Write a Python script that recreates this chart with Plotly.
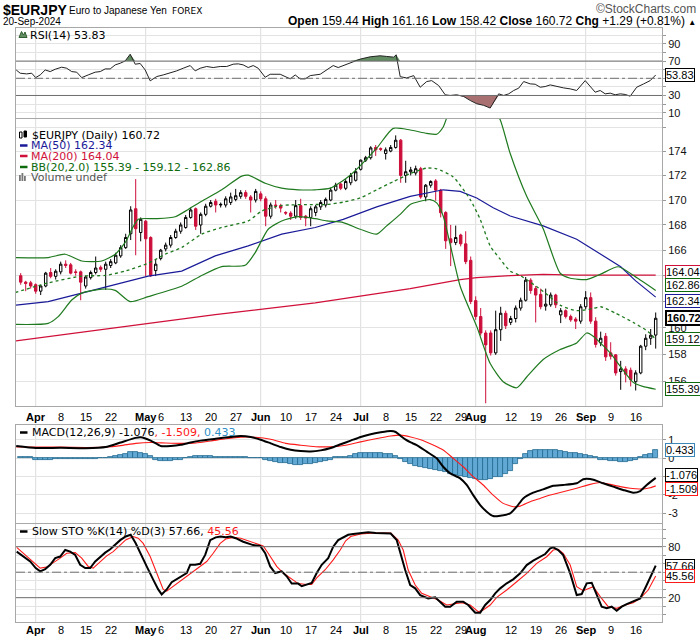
import math
import plotly.graph_objects as go

# ---------------- data ----------------
# trading-day index: 0 = 1-Apr-2024, 124 = 20-Sep-2024
bar_idx = list(range(-3, 125))

opens = [164.0, 163.5, 163.45, 163.3, 162.8, 163.2, 164.25, 163.95, 164.3, 164.9,
         164.85, 164.3, 164.3, 163.2, 163.85, 164.25, 164.65, 164.5, 164.8, 165.0,
         165.55, 166.2, 167.3, 169.3, 167.4, 168.3, 167.0, 164.4, 165.35, 166.1,
         166.4, 167.0, 167.5, 167.8, 168.6, 169.3, 168.0, 168.85, 169.5, 169.9,
         169.6, 169.6, 169.8, 170.05, 170.3, 170.6, 170.25, 170.0, 170.5, 170.1,
         168.7, 169.6, 169.55, 169.0, 168.95, 168.7, 169.55, 168.7, 168.6, 169.0,
         169.45, 169.6, 170.0, 170.8, 171.3, 170.95, 171.4, 171.6, 172.5, 173.25,
         173.45, 174.3, 174.2, 173.8, 174.0, 174.3, 174.9, 172.0, 172.3, 172.2,
         172.55, 170.25, 171.2, 171.55, 170.8, 169.0, 166.9, 166.6, 167.2, 166.5,
         165.2, 162.07, 160.85, 159.6, 159.6, 158.1, 159.85, 161.1, 160.4, 160.7,
         161.5, 162.1, 163.65, 163.0, 162.55, 161.65, 161.75, 162.5, 160.98, 161.3,
         160.85, 160.65, 160.5, 161.6, 162.3, 160.5, 158.85, 159.35, 158.1, 157.95,
         156.7, 156.9, 156.8, 155.95, 156.6, 158.6, 159.2, 159.44]
highs = [164.2, 163.6, 163.6, 163.4, 163.3, 164.3, 164.6, 164.5, 165.1, 165.2,
         165.0, 164.5, 164.4, 164.0, 164.4, 165.5, 164.8, 165.1, 165.3, 165.8,
         166.4, 167.3, 169.5, 171.7, 168.6, 168.4, 167.1, 165.3, 166.1, 166.6,
         167.2, 167.7, 168.2, 168.8, 169.4, 169.4, 169.0, 169.7, 170.0, 170.1,
         169.8, 170.3, 170.6, 170.9, 170.8, 170.8, 170.4, 170.9, 170.7, 170.3,
         169.8, 170.0, 169.7, 169.1, 169.1, 170.0, 170.1, 168.8, 169.5, 169.6,
         170.0, 170.2, 171.0, 171.4, 171.4, 171.7, 172.2, 172.6, 173.3, 173.6,
         174.4, 174.5, 174.3, 174.3, 174.5, 175.3, 175.0, 173.2, 172.7, 172.8,
         172.7, 171.3, 171.6, 171.7, 170.9, 169.1, 168.0, 167.95, 167.3, 167.5,
         165.5, 162.4, 161.5, 159.8, 159.8, 161.3, 161.6, 161.3, 160.9, 161.7,
         162.3, 163.9, 163.8, 163.2, 163.0, 163.0, 162.7, 162.6, 161.5, 161.4,
         161.0, 160.8, 161.8, 162.8, 162.7, 160.8, 159.7, 159.6, 158.9, 158.0,
         157.5, 157.1, 157.0, 156.8, 158.7, 159.5, 159.9, 161.16]
lows = [163.3, 162.8, 163.0, 162.6, 162.5, 163.1, 163.8, 163.7, 164.1, 164.6,
        164.1, 164.0, 162.1, 163.0, 163.7, 164.1, 164.3, 162.9, 164.6, 164.9,
        165.4, 166.1, 166.8, 165.6, 166.7, 163.97, 163.9, 163.97, 165.2, 165.9,
        166.2, 166.9, 167.3, 167.7, 168.5, 167.6, 167.3, 168.7, 169.4, 169.0,
        169.4, 169.4, 169.6, 169.9, 170.1, 170.1, 169.0, 169.8, 169.9, 167.9,
        168.5, 169.3, 169.0, 168.8, 168.4, 168.5, 168.4, 167.9, 167.9, 168.7,
        169.2, 169.4, 169.9, 170.7, 170.8, 170.8, 171.2, 171.5, 172.4, 173.1,
        173.3, 173.6, 174.0, 173.3, 173.9, 174.2, 171.4, 171.4, 172.0, 172.0,
        170.1, 169.9, 171.0, 169.95, 168.6, 166.1, 164.75, 166.4, 166.3, 164.9,
        161.8, 160.6, 159.4, 154.36, 157.9, 157.95, 159.0, 159.9, 160.2, 160.4,
        161.3, 162.0, 162.6, 160.4, 161.4, 161.3, 161.6, 161.5, 160.35, 160.7,
        160.45, 159.9, 160.3, 161.4, 160.3, 158.5, 158.6, 157.5, 157.6, 156.4,
        155.35, 155.9, 155.6, 155.3, 156.5, 158.3, 158.7, 158.42]
closes = [163.5, 163.4, 163.2, 162.8, 163.2, 164.2, 163.95, 164.35, 164.9, 164.8,
          164.2, 164.25, 163.5, 163.9, 164.25, 164.6, 164.5, 164.9, 165.1, 165.6,
          166.2, 167.0, 169.2, 167.7, 168.45, 166.9, 164.0, 164.9, 166.0, 166.4,
          167.0, 167.5, 168.0, 168.6, 169.2, 167.9, 168.85, 169.5, 169.8, 169.6,
          169.65, 170.1, 170.25, 170.35, 170.6, 170.3, 170.0, 170.7, 170.1, 168.7,
          169.6, 169.55, 169.35, 168.95, 168.7, 169.55, 168.6, 168.55, 169.3, 169.45,
          169.8, 170.05, 170.8, 171.2, 170.95, 171.5, 172.0, 172.3, 173.25, 173.45,
          174.26, 174.1, 174.15, 174.1, 174.3, 174.9, 172.0, 172.3, 172.45, 172.55,
          170.25, 171.2, 171.5, 170.8, 168.98, 166.74, 166.6, 167.0, 166.5, 165.1,
          162.0, 160.85, 159.6, 158.7, 158.1, 159.85, 161.1, 160.15, 160.7, 161.5,
          162.1, 163.65, 162.85, 162.5, 161.6, 161.8, 162.5, 161.75, 161.3, 160.85,
          160.6, 160.5, 161.6, 162.3, 160.5, 158.73, 159.2, 157.8, 157.85, 156.6,
          156.9, 156.5, 156.1, 156.6, 158.6, 159.2, 159.43, 160.72]

ma50_x = [-4.1, 2.5, 9.2, 15.9, 22.5, 29.2, 35.9, 42.5, 49.2, 55.9, 61.5, 68.2, 74.9,
          81.5, 84.9, 88.2, 91.5, 94.9, 101.5, 108.2, 113, 117, 120, 124]
ma50_v = [161.72, 161.99, 162.65, 163.31, 163.97, 164.36, 165.55, 166.34, 167.27, 167.8,
          168.45, 169.45, 170.3, 170.83, 170.7, 170.17, 169.38, 168.72, 167.93, 166.87,
          165.7, 164.7, 163.6, 162.34]

ma200_x = [-4.1, 15.9, 35.9, 55.9, 64.9, 74.9, 84.9, 88.2, 94.9, 101.5, 108.2, 116.9, 124]
ma200_v = [159.0, 160.0, 161.0, 161.9, 162.4, 163.0, 163.7, 163.85, 164.0, 164.1, 164.05,
           164.02, 164.04]

bb_up_x = [-4.1, 2.5, 5.9, 9.2, 13.2, 15.9, 17.9, 20.5, 23.9, 27.9, 30.5, 33.2, 37.2, 41.2,
           42.5, 45.9, 49.2, 52.5, 55.9, 58.9, 62.9, 68.2, 71.5, 74.9, 78.2, 80.2, 81.5,
           82.9, 86, 89, 91.5, 92.9, 94.9, 98.2, 101.5, 104.9, 106.9, 110.2, 112.9, 116.5,
           120.4, 124]
bb_up_v = [165.42, 165.42, 165.68, 165.15, 165.15, 165.68, 166.61, 168.45, 168.5, 168.66,
           169.24, 169.9, 170.83, 171.94, 172.02, 171.36, 170.96, 170.83, 170.83, 170.96,
           172.02, 174.24, 175.89, 175.75, 175.47, 175.4, 176.0, 177.5, 179.0, 179.0,
           177.5, 176.6, 173.8, 170.3, 167.7, 164.19, 163.8, 163.7, 164.1, 164.7,
           163.8, 162.86]

bb_mid_x = [-4.1, 2.5, 9.2, 13.9, 17.9, 22.5, 25.9, 29.2, 33.2, 37.2, 42.5, 45.2, 49.2,
            55.9, 58.2, 61.5, 64.9, 68.2, 71.5, 74.9, 78.2, 80.2, 83.5, 86.9, 88.9, 90.9,
            92.9, 94.9, 96.9, 101.5, 104.9, 108.2, 111.5, 113, 116, 119.5, 122.5, 124]
bb_mid_v = [162.7, 163.44, 163.97, 164.02, 164.36, 164.97, 165.68, 166.21, 167.27, 167.8,
            168.32, 169.11, 169.56, 169.64, 169.64, 169.83, 170.17, 170.83, 171.49, 172.15,
            172.6, 172.54, 171.88, 170.04, 168.45, 166.34, 165.29, 164.36, 164.02, 162.78,
            161.72, 161.3, 161.47, 161.6, 161.1, 160.4, 159.7, 159.12]

bb_lo_x = [-4.1, 2.5, 4.5, 7.2, 9.2, 13.2, 15.9, 18.9, 22.5, 29.2, 33.2, 37.2, 41.9, 43.9,
           46.5, 49.2, 52.5, 55.9, 58.2, 61.5, 64.9, 68.2, 70.2, 72.9, 74.9, 76.9, 78.9,
           80.2, 81.5, 84.9, 88.2, 90.9, 93.5, 96.2, 98.2, 101.5, 104.9, 108.2, 110.2,
           111.5, 114.9, 116.9, 119.5, 121.4, 124]
bb_lo_v = [160.25, 160.33, 160.84, 162.12, 162.65, 162.96, 162.86, 161.99, 162.38, 163.18,
           164.02, 164.71, 164.81, 165.81, 167.66, 168.32, 168.66, 168.5, 168.32, 168.19,
           167.66, 167.27, 167.93, 168.85, 169.64, 169.9, 170.04, 169.77, 168.72, 163.18,
           160.1, 157.3, 155.95, 155.5, 156.3, 157.6, 158.35, 158.85, 159.6, 159.35,
           158.1, 157.1, 155.9, 155.6, 155.39]

rsi_x = [-3.9, -3.1, -1.8, -0.8, 0, 0.9, 1.9, 2.9, 3.9, 5.2, 6.2, 7.2, 8.2, 9.2, 10.5, 11.9,
         12.9, 13.9, 14.9, 15.9, 16.9, 17.9, 18.9, 19.9, 20.9, 21.9, 22.9, 24.2, 25.5, 26.9,
         28.2, 29.5, 30.9, 31.9, 32.9, 34.2, 35.5, 36.9, 38.2, 39.5, 40.5, 41.5, 42.5, 43.5,
         44.5, 45.9, 46.9, 48.9, 50.9, 51.9, 52.9, 53.9, 54.9, 56.9, 58.2, 59.5, 60.5, 61.5,
         62.9, 64.9, 66.9, 68.9, 70.2, 71.6, 72.1, 72.9, 74.2, 75.6, 76.9, 78.2, 79.2, 80.6,
         81.9, 82.9, 84.2, 85.6, 86.9, 88.2, 89.6, 90.9, 92.6, 93.6, 94.6, 95.6, 96.6, 97.6,
         98.9, 99.9, 100.9, 101.9, 102.9, 104.2, 105.6, 106.9, 108.2, 109.9, 110.9, 111.9,
         112.9, 113.9, 114.9, 115.9, 116.9, 117.9, 118.9, 120.2, 121.6, 122.9, 124]
rsi_v = [59.7, 55.9, 55.1, 55.9, 50.8, 53.9, 59.7, 57.8, 60.5, 62.9, 61.7, 57.8, 57.1, 50.8,
         53.9, 57.1, 57.8, 60.9, 60.9, 65.6, 67.5, 70.2, 78.0, 66.4, 67.2, 59.7, 47.0, 52.0,
         53.9, 55.9, 58.6, 61.7, 64.8, 58.6, 61.7, 63.7, 62.5, 63.7, 63.7, 66.4, 66.8, 65.6,
         62.5, 64.8, 61.7, 51.2, 54.7, 54.7, 49.3, 53.9, 49.3, 49.3, 53.1, 54.7, 59.7, 64.8,
         62.5, 64.8, 67.5, 72.3, 75.0, 76.2, 75.4, 74.6, 77.3, 51.9, 50.4, 53.1, 39.6, 46.2,
         47.3, 41.5, 30.8, 30.0, 30.8, 28.8, 24.2, 20.4, 18.5, 15.4, 31.9, 30.0, 31.9, 35.8,
         38.5, 46.2, 43.5, 43.1, 39.6, 40.4, 42.3, 40.4, 38.8, 37.7, 35.8, 47.3, 40.4, 33.8,
         35.8, 31.9, 32.7, 30.8, 31.9, 31.2, 29.2, 39.6, 43.5, 47.3, 53.83]

macd_x = [-3.9, 0, 5, 10, 14, 17, 20, 21, 23, 25, 27, 29, 31, 33, 36, 39, 41, 43, 45, 47,
          49, 51, 53, 55, 57, 59, 61, 63, 65, 67, 69, 71, 72, 73, 74, 75, 76.2, 78.2, 80.2,
          81.5, 82.9, 84.9, 86.2, 87.5, 88.9, 90.2, 91.5, 92.9, 94.9, 96.2, 97.5, 99.5,
          101.5, 103.5, 105.5, 108.2, 109.5, 110.9, 112.2, 113.5, 115.5, 117.5, 119.5,
          120.9, 122.2, 124]
macd_v = [0.66, 0.55, 0.56, 0.54, 0.6, 0.85, 1.10, 1.13, 0.95, 0.66, 0.66, 0.72, 0.85,
          0.95, 1.05, 1.15, 1.2, 1.15, 1.0, 0.8, 0.6, 0.45, 0.38, 0.36, 0.42, 0.55, 0.75,
          0.95, 1.15, 1.3, 1.4, 1.47, 1.42, 1.2, 1.0, 0.85, 0.71, 0.35, -0.01, -0.47, -0.83,
          -1.10, -1.46, -2.01, -2.55, -2.91, -3.15, -3.13, -3.0, -2.64, -2.19, -1.88, -1.70,
          -1.50, -1.46, -1.37, -1.15, -1.14, -1.24, -1.37, -1.55, -1.73, -1.88, -1.79,
          -1.46, -1.076]

signal_x = [-3.9, 0, 5, 10, 14, 17, 20, 23, 26, 29, 32, 35, 38, 41, 44, 47, 50, 53, 56, 59,
            62, 65, 68, 71, 73, 75, 77, 79.5, 81.5, 83.5, 85.5, 87.5, 89.5, 91.5, 93.5,
            95.5, 96.9, 98.9, 100.9, 102.9, 105.5, 108.2, 110.9, 112.9, 114.9, 116.9, 118.9,
            120.9, 122.9, 124]
signal_v = [0.6, 0.6, 0.6, 0.58, 0.6, 0.68, 0.8, 0.85, 0.82, 0.8, 0.82, 0.93, 1.05, 1.14,
            1.13, 1.02, 0.8, 0.7, 0.62, 0.62, 0.7, 0.88, 1.05, 1.2, 1.25, 1.15, 1.0, 0.71,
            0.44, -0.01, -0.47, -1.01, -1.46, -2.01, -2.46, -2.64, -2.61, -2.37, -2.19, -2.01,
            -1.83, -1.64, -1.43, -1.33, -1.43, -1.55, -1.64, -1.68, -1.61, -1.509]

hist_v = [0.05, 0.05, 0.05, -0.10, -0.11, -0.11, -0.08, -0.04, -0.04, -0.03,
          -0.04, -0.05, -0.06, -0.05, -0.04, -0.03, -0.02, -0.01, 0.05, 0.14,
          0.16, 0.25, 0.31, 0.32, 0.30, 0.22, 0.12, -0.10, -0.16, -0.17,
          -0.16, -0.12, -0.10, 0.02, 0.08, 0.09, 0.10, 0.09, 0.09, 0.08,
          0.05, 0.04, 0.04, 0.04, 0.04, 0.04, 0.03, 0.03, 0.00, -0.10,
          -0.14, -0.20, -0.24, -0.28, -0.32, -0.35, -0.36, -0.34, -0.31, -0.27,
          -0.22, -0.17, -0.10, 0.04, 0.05, 0.06, 0.12, 0.22, 0.27, 0.30,
          0.30, 0.30, 0.28, 0.24, 0.20, 0.12, -0.05, -0.20, -0.30, -0.42,
          -0.48, -0.53, -0.60, -0.66, -0.72, -0.78, -0.85, -0.90, -0.96, -1.02,
          -1.06, -1.15, -1.18, -1.18, -1.12, -1.05, -1.00, -0.88, -0.70, -0.30,
          -0.05, 0.25, 0.38, 0.42, 0.45, 0.46, 0.46, 0.45, 0.40, 0.33,
          0.30, 0.27, 0.23, 0.18, 0.10, 0.05, -0.08, -0.12, -0.16, -0.18,
          -0.20, -0.22, -0.18, -0.10, 0.05, 0.15, 0.24, 0.433]

stok_x = [-3.8, -2.5, -1.1, 0, 0.9, 1.9, 2.9, 3.9, 4.9, 5.9, 6.9, 7.9, 8.9, 9.9, 10.9, 11.9,
          12.9, 13.9, 14.9, 15.9, 16.9, 18, 19, 20, 20.9, 22.2, 23.5, 24.5, 25.2, 26.2, 27.2,
          28.2, 29.2, 30.2, 30.9, 31.9, 32.9, 33.9, 34.9, 36, 37, 38, 39, 40, 41.5, 43.5,
          44.9, 45.9, 46.9, 47.9, 49.2, 50.2, 51.2, 52.5, 53.2, 54.2, 55.2, 56.2, 57.2, 58.5,
          59.5, 60.5, 61.5, 62.5, 63.5, 65, 66.5, 68, 69.5, 71, 72.2, 72.9, 73.9, 74.9, 75.9,
          76.9, 78.5, 79.9, 80.9, 81.9, 82.9, 84.2, 85.5, 86.5, 87.9, 88.9, 89.9, 90.9, 91.9,
          92.9, 94.2, 95.5, 96.9, 98.2, 99.5, 100.9, 101.9, 102.9, 103.5, 104.5, 105.5,
          106.9, 108.2, 109.2, 110.2, 111.2, 112.2, 113.2, 114.2, 115.2, 116.2, 117.2,
          118.2, 119.5, 120.9, 122.2, 124]
stok_v = [74.2, 68.4, 62.6, 54.8, 51.0, 53.7, 58.7, 66.5, 68.4, 76.1, 74.2, 70.3, 58.7, 54.8,
          54.8, 62.6, 68.4, 73.0, 76.9, 81.9, 87.7, 92, 94, 84, 72.3, 56.8, 41.3, 29.7, 23.9,
          29.7, 38.2, 42.1, 45.2, 49.0, 58.7, 58.7, 59.9, 70.3, 87.7, 91, 92, 91, 92, 90,
          85.8, 81.9, 80.8, 72.3, 56.8, 49.0, 51.0, 45.2, 36.6, 36.6, 33.5, 35.5, 37.4, 49.0,
          58.7, 66.5, 80, 87.7, 91, 94, 95, 96, 97, 96, 96, 95.5, 87.8, 72.2, 52.5, 34.9,
          31.0, 23.1, 19.2, 20.4, 15.3, 9.4, 9.4, 15.3, 15.3, 11.4, 2.4, 2.4, 11.4, 17.3,
          25.1, 31.0, 36.9, 41.6, 48.6, 58.4, 63.5, 68.2, 71.4, 78.0, 79.2, 76.1, 70.2, 48.6,
          23.1, 24.3, 36.9, 37.6, 23.1, 9.4, 7.5, 9.4, 4.7, 9.4, 12.5, 15.3, 19.2, 34.9,
          57.66]

stod_x = [-3.8, -2.1, -0.5, 0.9, 2.2, 3.5, 4.9, 6.2, 7.9, 9.2, 10.5, 11.5, 12.9, 14.2, 15.5,
          16.9, 18, 19.5, 20.5, 21.5, 22.9, 24.2, 25.5, 26.2, 27.5, 28.9, 30.2, 31.5, 32.9,
          34.2, 35.5, 36.9, 38, 39.5, 41, 42.2, 44.2, 45.5, 46.5, 48.2, 49.5, 50.9, 52.5,
          54.2, 55.2, 56.2, 57.9, 59.5, 60.9, 62, 63, 65, 67, 69, 71, 72.5, 73.5, 74.5, 75.9,
          77.2, 78.9, 80.5, 82.2, 83.5, 85.2, 86.9, 88.5, 89.5, 90.9, 92.2, 94.2, 96.2, 98.2,
          100.2, 102.2, 103.5, 104.5, 105.5, 106.9, 108.2, 109.5, 111.5, 112.9, 114.5, 116.2,
          117.9, 119.5, 120.9, 122.5, 124]
stod_v = [79.2, 70.3, 62.6, 54.8, 56.0, 60.6, 66.5, 72.3, 73.0, 66.5, 56.8, 54.8, 62.6, 69.2,
          74.2, 81.9, 88, 92, 90, 83.9, 68.4, 49.0, 29.7, 27.7, 33.5, 39.3, 45.2, 51.0, 56.8,
          62.6, 72.3, 83.9, 89, 91, 90, 87.7, 83.1, 80.8, 72.3, 56.8, 49.0, 43.2, 36.6, 35.5,
          35.5, 43.2, 52.9, 64.5, 76.1, 87, 92, 95, 96, 96, 96, 87.8, 76.1, 52.5, 34.9, 25.1,
          21.2, 17.3, 11.4, 12.5, 14.1, 11.4, 3.5, 5.5, 11.4, 20.4, 29.0, 38.8, 48.6, 60.4,
          68.2, 76.1, 76.9, 72.2, 58.4, 32.9, 28.2, 32.9, 21.2, 9.4, 7.5, 11.4, 14.1, 19.2,
          29.0, 45.56]

month_idx = [0, 22, 45, 65, 88, 110]
tick_idx = [0, 5, 10, 15, 22, 25, 30, 35, 40, 45, 50, 55, 60, 65, 70, 75, 80, 85, 88, 95,
            100, 105, 110, 115, 120]
tick_txt = ['<b>Apr</b>', '8', '15', '22', '<b>May</b>', '6', '13', '20', '27', '<b>Jun</b>',
            '10', '17', '24', '<b>Jul</b>', '8', '15', '22', '29', '<b>Aug</b>', '12', '19',
            '26', '<b>Sep</b>', '9', '16']

price_ticks = [154, 156, 158, 160, 162, 164, 166, 168, 170, 172, 174, 176]
# 162 / 164 are hidden behind the value tags in the reference
price_labels = ['', '156', '158', '160', '', '', '166', '168', '170', '172', '174', '']

# ---------------- layout helpers ----------------
PL, PR, PT, PB = 16, 662, 28, 622


def px_x(px):
    return (px - PL) / (PR - PL)


def px_y(py):
    return (PB - py) / (PB - PT)


SANS = "Liberation Sans, Arial"
VERD = "DejaVu Sans, Verdana"

GREEN = "#1f7a1f"
DKGREEN = "#0d6b0d"
NAVY = "#1a1a99"
CRIMSON = "#d0103a"
RED = "#ff1a1a"
CANDLE_RED = "#cc0f3a"

fig = go.Figure()

# ---- RSI panel ----
fig.add_trace(go.Scatter(x=rsi_x, y=[70] * len(rsi_x), mode="lines", line=dict(width=0),
                         xaxis="x", yaxis="y", hoverinfo="skip"))
fig.add_trace(go.Scatter(x=rsi_x, y=[max(v, 70) for v in rsi_v], mode="lines",
                         line=dict(width=0), fill="tonexty", fillcolor="rgb(98,140,98)",
                         xaxis="x", yaxis="y", hoverinfo="skip"))
fig.add_trace(go.Scatter(x=rsi_x, y=[30] * len(rsi_x), mode="lines", line=dict(width=0),
                         xaxis="x", yaxis="y", hoverinfo="skip"))
fig.add_trace(go.Scatter(x=rsi_x, y=[min(v, 30) for v in rsi_v], mode="lines",
                         line=dict(width=0), fill="tonexty", fillcolor="rgb(168,112,112)",
                         xaxis="x", yaxis="y", hoverinfo="skip"))
fig.add_trace(go.Scatter(x=rsi_x, y=rsi_v, mode="lines", line=dict(color="#222", width=1),
                         xaxis="x", yaxis="y"))

# ---- price panel ----
fig.add_trace(go.Scatter(x=ma200_x, y=ma200_v, mode="lines", line=dict(color=CRIMSON, width=1.2),
                         xaxis="x2", yaxis="y2"))
fig.add_trace(go.Scatter(x=ma50_x, y=ma50_v, mode="lines", line=dict(color=NAVY, width=1.2),
                         xaxis="x2", yaxis="y2"))
fig.add_trace(go.Scatter(x=bb_up_x, y=bb_up_v, mode="lines",
                         line=dict(color=GREEN, width=1.2, shape="spline", smoothing=0.6),
                         xaxis="x2", yaxis="y2"))
fig.add_trace(go.Scatter(x=bb_lo_x, y=bb_lo_v, mode="lines",
                         line=dict(color=GREEN, width=1.2, shape="spline", smoothing=0.6),
                         xaxis="x2", yaxis="y2"))
fig.add_trace(go.Scatter(x=bb_mid_x, y=bb_mid_v, mode="lines",
                         line=dict(color=GREEN, width=1.3, dash="dot", shape="spline", smoothing=0.6),
                         xaxis="x2", yaxis="y2"))
fig.add_trace(go.Candlestick(x=bar_idx, open=opens, high=highs, low=lows, close=closes,
                             xaxis="x2", yaxis="y2", whiskerwidth=0,
                             increasing=dict(line=dict(color="black", width=1), fillcolor="white"),
                             decreasing=dict(line=dict(color=CANDLE_RED, width=1), fillcolor=CANDLE_RED)))

# ---- MACD panel ----
fig.add_trace(go.Bar(x=bar_idx, y=hist_v, width=1.0, marker=dict(color="#62a8d4",
                     line=dict(color="#22698f", width=0.8)), xaxis="x3", yaxis="y3"))
fig.add_trace(go.Scatter(x=signal_x, y=signal_v, mode="lines",
                         line=dict(color=RED, width=1.1, shape="spline", smoothing=0.5),
                         xaxis="x3", yaxis="y3"))
fig.add_trace(go.Scatter(x=macd_x, y=macd_v, mode="lines",
                         line=dict(color="black", width=2, shape="spline", smoothing=0.5),
                         xaxis="x3", yaxis="y3"))

# ---- Slow STO panel ----
fig.add_trace(go.Scatter(x=stod_x, y=stod_v, mode="lines", line=dict(color=RED, width=1.1),
                         xaxis="x4", yaxis="y4"))
fig.add_trace(go.Scatter(x=stok_x, y=stok_v, mode="lines", line=dict(color="black", width=2),
                         xaxis="x4", yaxis="y4"))

# ---------------- axes ----------------
XR = [-3.94, 125.26]
frame = dict(showline=True, mirror=True, linecolor="#a8a8a8", linewidth=1, zeroline=False)
xcommon = dict(range=XR, showgrid=False, fixedrange=True, automargin=False,
               showticklabels=False, ticks="", **frame)
ycommon = dict(side="right", showgrid=True, gridcolor="#e3e3e3", gridwidth=1, ticks="outside",
               ticklen=3, tickcolor="#999", tickfont=dict(family=SANS, size=11, color="#111"),
               automargin=False, **frame)

fig.update_layout(
    width=700, height=639,
    margin=dict(l=PL, r=700 - PR, t=PT, b=639 - PB, pad=0),
    paper_bgcolor="white", plot_bgcolor="white",
    showlegend=False, bargap=0,
    xaxis=dict(anchor="y", **xcommon),
    xaxis2=dict(anchor="y2", matches="x", rangeslider=dict(visible=False), **xcommon),
    xaxis3=dict(anchor="y3", matches="x", **xcommon),
    xaxis4=dict(anchor="y4", matches="x", **xcommon),
    yaxis=dict(domain=[px_y(118), 1.0], range=[3.8, 108.5], tickmode="array",
               tickvals=[10, 20, 30, 40, 50, 60, 70, 80, 90, 100],
               ticktext=["10", "", "30", "", "", "", "70", "", "90", ""], **ycommon),
    yaxis2=dict(domain=[px_y(406), px_y(119)], type="log",
                range=[math.log10(154.16), math.log10(176.67)], tickmode="array",
                tickvals=price_ticks, ticktext=price_labels, **ycommon),
    yaxis3=dict(domain=[px_y(523), px_y(425)], range=[-3.527, 1.799], tickmode="array",
                tickvals=[-3, -2, -1, 0, 1], ticktext=["-3", "-2", "", "0", "1"], **ycommon),
    yaxis4=dict(domain=[0, px_y(524)], range=[-8.6, 106.7], tickmode="array",
                tickvals=[0, 10, 20, 30, 40, 50, 60, 70, 80, 90, 100],
                ticktext=["", "", "20", "", "", "", "", "", "80", "", ""], **ycommon),
)

shapes = []
# month grid lines
for yname in ["y", "y2", "y3", "y4"]:
    for m in month_idx:
        shapes.append(dict(type="line", xref="x", yref=yname + " domain", x0=m, x1=m, y0=0, y1=1,
                           line=dict(color="#dcdcdc", width=1), layer="below"))
# RSI / STO reference lines
for yname, lv in [("y", 70), ("y", 30), ("y4", 80), ("y4", 20)]:
    shapes.append(dict(type="line", xref="paper", yref=yname, x0=0, x1=1, y0=lv, y1=lv,
                       line=dict(color="#6e6e6e", width=1)))
for yname in ["y", "y4"]:
    shapes.append(dict(type="line", xref="paper", yref=yname, x0=0, x1=1, y0=50, y1=50,
                       line=dict(color="#6e6e6e", width=1, dash="dashdot")))


def hline_icon(py, color, w=2.5):
    return dict(type="line", xref="paper", yref="paper", x0=px_x(20), x1=px_x(27.5),
                y0=px_y(py), y1=px_y(py), line=dict(color=color, width=w))


shapes.append(dict(type="path", xref="paper", yref="paper",
                   path=f"M {px_x(19)},{px_y(37.5)} L {px_x(21.5)},{px_y(31.5)} L {px_x(23.5)},{px_y(35)} "
                        f"L {px_x(25)},{px_y(32)} L {px_x(27)},{px_y(37.5)} Z",
                   fillcolor="rgb(98,140,98)", line=dict(color="#2f5f2f", width=1)))
shapes.append(dict(type="rect", xref="paper", yref="paper", x0=px_x(19.5), x1=px_x(22),
                   y0=px_y(138), y1=px_y(132), fillcolor="white", line=dict(color="black", width=1)))
shapes.append(dict(type="rect", xref="paper", yref="paper", x0=px_x(24), x1=px_x(26.5),
                   y0=px_y(137), y1=px_y(131), fillcolor="black", line=dict(color="black", width=1)))
shapes.append(hline_icon(145.5, NAVY))
shapes.append(hline_icon(156, CRIMSON))
shapes.append(hline_icon(167, DKGREEN))
for a, b in [(19, 175), (21.5, 173), (24, 176)]:
    shapes.append(dict(type="rect", xref="paper", yref="paper", x0=px_x(a), x1=px_x(a + 1.8),
                       y0=px_y(181), y1=px_y(b), fillcolor="#777", line=dict(width=0)))
shapes.append(hline_icon(432.5, "black"))
shapes.append(hline_icon(531.5, "black"))
fig.update_layout(shapes=shapes)

ann = []


def text_ann(px, py, text, size=11, family=VERD, color="#000", anchor="left"):
    ann.append(dict(xref="paper", yref="paper", x=px_x(px), y=px_y(py), text=text,
                    showarrow=False, xanchor=anchor, yanchor="middle",
                    font=dict(family=family, size=size, color=color)))


# header
text_ann(1, 9.5, "<b>$EURJPY</b>", size=14, family=SANS)
text_ann(67, 10.5, "Euro to Japanese Yen", size=10, family=SANS)
text_ann(170, 10.5, "FOREX", size=9, family=VERD)
text_ann(698, 9, "©StockCharts.com", size=12, family=SANS, color="#555", anchor="right")
text_ann(1, 21.5, "20-Sep-2024", size=10, family=SANS)
text_ann(698, 21.5, "<b>Open</b> 159.44 <b>High</b> 161.16 <b>Low</b> 158.42 <b>Close</b> 160.72 "
         "<b>Chg</b> +1.29 (+0.81%) <span style='font-size:8px'>▲</span>", size=12, family=SANS,
         anchor="right")

# panel legends
text_ann(28, 35, "RSI(14) 53.83")
text_ann(30, 135, "$EURJPY (Daily) 160.72")
text_ann(29, 145.5, "MA(50) 162.34", color=NAVY)
text_ann(29, 156, "MA(200) 164.04", color=CRIMSON)
text_ann(29, 167, "BB(20,2.0) 155.39 - 159.12 - 162.86", color=DKGREEN)
text_ann(29, 177.5, "Volume undef", color="#555")
text_ann(30, 432.5, "MACD(12,26,9) -1.076<span style='color:#ff1a1a'>, -1.509, </span>"
         "<span style='color:#2f8fc8'>0.433</span>")
text_ann(30, 531.5, "Slow STO %K(14) %D(3) 57.66, <span style='color:#ff1a1a'>45.56</span>")

# date labels under the price panel and the bottom panel (placed on the x scale)
for xa, py in [("x2", 417), ("x4", 629.5)]:
    for ti, tt in zip(tick_idx, tick_txt):
        ann.append(dict(xref=xa, yref="paper", x=ti, y=px_y(py), text=tt, showarrow=False,
                        xanchor="center", yanchor="middle",
                        font=dict(family=SANS, size=11, color="#000")))


def tag(yref, yval, text, color, yshift=0, bold=False, bw=1):
    ann.append(dict(xref="paper", yref=yref, x=px_x(665), y=yval, yshift=yshift,
                    text=f"<b>{text}</b>" if bold else text, showarrow=False,
                    xanchor="left", yanchor="middle", bgcolor="white", bordercolor=color,
                    borderwidth=bw, borderpad=0,
                    font=dict(family=SANS, size=11, color="#000")))


tag("y", 53.83, "53.83", "#000")
tag("y2", math.log10(164.04), "164.04", CRIMSON, yshift=3)
tag("y2", math.log10(162.86), "162.86", DKGREEN, yshift=5)
tag("y2", math.log10(162.34), "162.34", NAVY, yshift=-4)
tag("y2", math.log10(160.72), "160.72", "#000", yshift=0, bold=True, bw=2)
tag("y2", math.log10(159.12), "159.12", DKGREEN)
tag("y2", math.log10(155.39), "155.39", DKGREEN)
tag("y3", 0.433, "0.433", "#3a87b8")
tag("y3", -1.509, "-1.509", RED, yshift=-3)
tag("y3", -1.076, "-1.076", "#000", yshift=3)
tag("y4", 57.66, "57.66", "#000")
tag("y4", 45.56, "45.56", RED)
fig.update_layout(annotations=ann)

fig.write_html("out.html")
